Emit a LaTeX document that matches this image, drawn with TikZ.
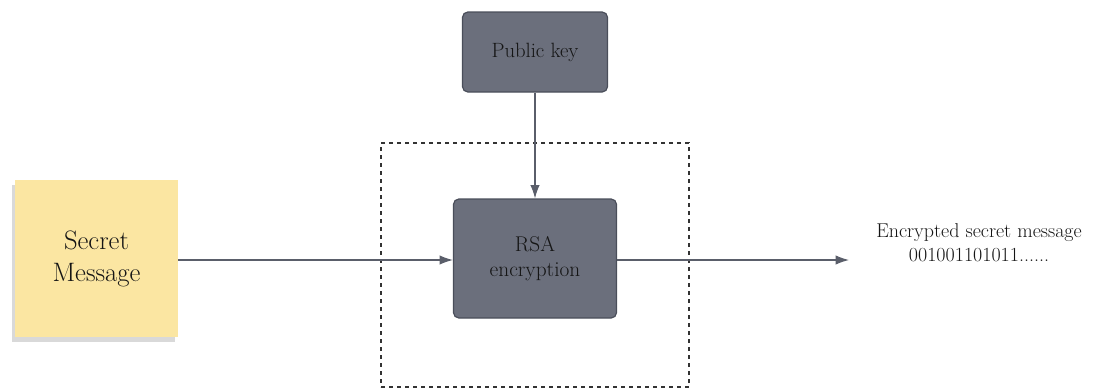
\documentclass[tikz,border=0pt]{standalone}
\usetikzlibrary{arrows.meta,shadows}
\definecolor{boxfill}{HTML}{6B6F7C}
\definecolor{boxline}{HTML}{4A4E5A}
\definecolor{linecol}{HTML}{5A5E6A}
\definecolor{sticky}{HTML}{FBE6A2}
\definecolor{txt}{HTML}{151515}
\tikzset{
  x=0.75pt, y=-0.75pt,
  keybox/.style={draw=boxline, line width=0.9pt, fill=boxfill, rounded corners=4pt, text=txt, align=center, inner sep=0pt},
  note/.style={fill=sticky, align=center, text=txt, inner sep=0pt,
     drop shadow={shadow xshift=-2pt, shadow yshift=-3.5pt, opacity=0.3, fill=black!50}},
  conn/.style={draw=linecol, line width=0.8pt, -{Latex[length=10pt,width=7pt]}},
  dashbox/.style={draw=black!80, dashed, line width=0.8pt}
}
\begin{document}
\begin{tikzpicture}
\useasboundingbox (0,0) rectangle (1109,390);
\node[note, minimum width=122.25pt, minimum height=117.75pt,
  font=\fontsize{20}{24}\selectfont] (msg) at (96.5,258.5) {Secret\\Message};
\node[keybox, minimum width=108.75pt, minimum height=60pt,
  font=\fontsize{15.5}{18}\selectfont] (pub) at (535,52) {Public key};
\node[keybox, minimum width=122.25pt, minimum height=89.25pt,
  font=\fontsize{16}{19}\selectfont] (rsa) at (535,258.5) {RSA\\encryption};
\node[dashbox, minimum width=231pt, minimum height=183pt, inner sep=0pt] (frame) at (535,265) {};
\coordinate (out) at (849,260);
\node[text=txt, align=center, inner sep=0pt,
  font=\fontsize{15}{18}\selectfont] (enc) at (979,243) {Encrypted secret message\\001001101011......};
\draw[conn] (pub.south) -- (rsa.north);
\draw[conn] (msg.east |- 0,260) -- (rsa.west |- 0,260);
\draw[conn] (rsa.east |- 0,260) -- (out);
\end{tikzpicture}
\end{document}
